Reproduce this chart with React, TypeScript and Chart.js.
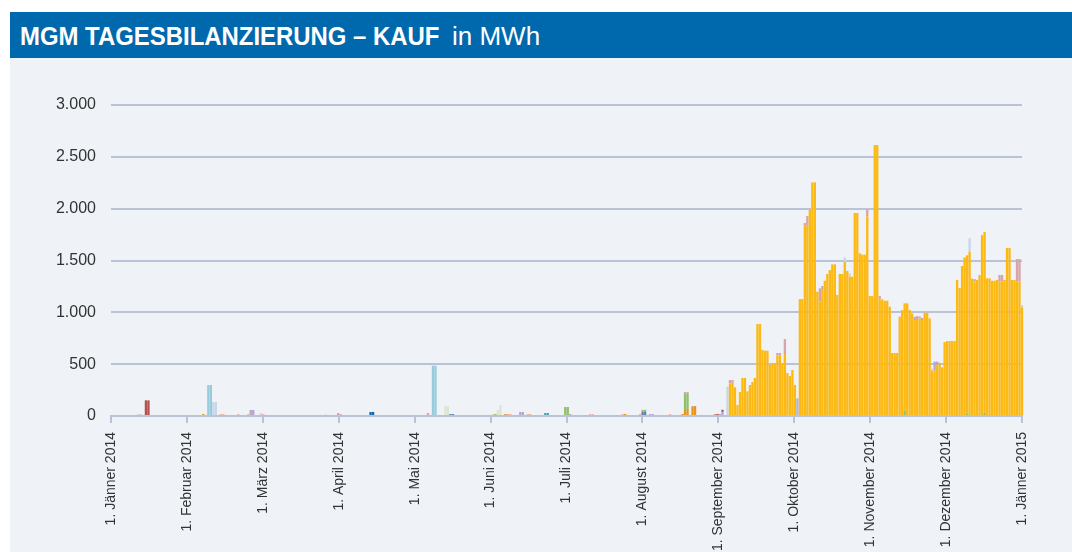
import React, { useEffect, useRef } from "react";
import { Chart, registerables } from "chart.js";

Chart.register(...registerables);

// ---- axis text ----
const titleBold = "MGM TAGESBILANZIERUNG – KAUF";
const titleUnit = "in MWh";
const monthLabels = [
  "1. Jänner 2014", "1. Februar 2014", "1. März 2014", "1. April 2014",
  "1. Mai 2014", "1. Juni 2014", "1. Juli 2014", "1. August 2014",
  "1. September 2014", "1. Oktober 2014", "1. November 2014",
  "1. Dezember 2014", "1. Jänner 2015",
];
const yTicks = [0, 500, 1000, 1500, 2000, 2500, 3000];

// ---- main series (orange), contiguous days starting at orangeStart ----
const orangeStart = 248;
const orangeValues = [
  315, 320, 277, 106, 231, 367, 367, 238, 299, 328, 367, 887, 887, 637, 630, 630,
  492, 511, 511, 585, 585, 508, 598, 415, 386, 444, 299, 0, 1128, 1128, 1842, 1842,
  1987, 2254, 2254, 1199, 1103, 1214, 1305, 1370, 1408, 1463, 1463, 1168, 1370, 1370,
  1488, 1400, 1344, 1344, 1958, 1958, 1569, 1556, 1556, 1926, 1157, 1157, 2614, 2614,
  1125, 1125, 1112, 1112, 1054, 608, 608, 608, 958, 1022, 1037, 1087, 1022, 990,
  926, 926, 940, 926, 996, 996, 942, 437, 437, 485, 514, 469, 714, 723, 723, 723,
  723, 1312, 1235, 1447, 1530, 1530, 1585, 1325, 1300, 1312, 1360, 1746, 1746, 1328,
  1328, 1305, 1305, 1312, 1296, 1296, 1312, 1620, 1620, 1312, 1312, 1296, 1296, 1048,
];

// ---- small series: day index (0 = 1. Jänner 2014) and value ----
const darkOrangeDays = [37, 158, 206, 229, 230, 231, 233, 234];
const darkOrangeValues = [19, 19, 19, 19, 58, 58, 87, 96];

const steelBlueDays = [136, 137, 213, 214];
const steelBlueValues = [19, 19, 39, 39];

const darkBlueDays = [104, 105];
const darkBlueValues = [39, 39];

const greenDays = [153, 154, 182, 183, 213, 214, 230, 231, 318, 343, 350];
const greenValues = [13, 19, 87, 87, 20, 20, 154, 154, 50, 20, 30];

const tealDays = [174, 175];
const tealValues = [29, 29];

const lightBlueDays = [39, 40, 129, 130];
const lightBlueValues = [299, 299, 485, 485];

const paleGreenDays = [134, 135, 155, 156];
const paleGreenValues = [96, 96, 58, 106];

const salmonDays = [44, 45, 51, 55, 61, 86, 159, 160, 167, 168, 192, 193, 205, 212, 224];
const salmonValues = [19, 19, 19, 19, 19, 13, 19, 19, 19, 19, 19, 19, 19, 19, 19];

const greyDays = [275];
const greyValues = [170];

const pinkDays = [91, 92, 127, 230, 231, 233, 248, 249, 267, 268, 270, 278, 279, 284, 285,
  303, 308, 323, 324, 356, 357, 363, 364];
const pinkValues = [29, 19, 29, 19, 19, 10, 32, 27, 23, 23, 144, 19, 87, 128, 40,
  67, 32, 38, 20, 64, 64, 218, 218];

const purpleDays = [56, 57, 164, 165, 184, 216, 217, 244, 245, 322, 325, 330, 331, 346];
const purpleValues = [58, 58, 39, 39, 19, 19, 19, 19, 40, 30, 20, 87, 39, 20];

const paleBlueDays = [11, 12, 32, 41, 42, 60, 247, 294, 296, 329, 344, 365];
const paleBlueValues = [20, 20, 10, 135, 135, 29, 283, 42, 30, 20, 130, 23];

const redDays = [14, 15, 242, 243, 245];
const redValues = [151, 151, 15, 20, 20];

const DAYS_IN_YEAR = 365;

function pts(days: number[], values: number[]) {
  return days.map((d, i) => ({ x: d, y: values[i] }));
}

function fmt(v: number) {
  const s = String(Math.round(v));
  return s.replace(/\B(?=(\d{3})+(?!\d))/g, ".");
}

export default function App() {
  const ref = useRef<HTMLCanvasElement | null>(null);

  useEffect(() => {
    const canvas = ref.current;
    if (!canvas) return;
    const orangeDays = orangeValues.map((_, i) => orangeStart + i);
    const series = [
      { label: "darkOrange", color: "#e8951b", data: pts(darkOrangeDays, darkOrangeValues) },
      { label: "steelBlue", color: "#5f80b5", data: pts(steelBlueDays, steelBlueValues) },
      { label: "darkBlue", color: "#1167a9", data: pts(darkBlueDays, darkBlueValues) },
      { label: "green", color: "#8fc06a", data: pts(greenDays, greenValues) },
      { label: "teal", color: "#4ea1b8", data: pts(tealDays, tealValues) },
      { label: "lightBlue", color: "#97cbdc", data: pts(lightBlueDays, lightBlueValues) },
      { label: "paleGreen", color: "#dde6d0", data: pts(paleGreenDays, paleGreenValues) },
      { label: "salmon", color: "#efb3a0", data: pts(salmonDays, salmonValues) },
      { label: "grey", color: "#b8b4cd", data: pts(greyDays, greyValues) },
      { label: "orange", color: "#fdb913", data: pts(orangeDays, orangeValues) },
      { label: "pink", color: "#d9a4a7", data: pts(pinkDays, pinkValues) },
      { label: "purple", color: "#b5a6d0", data: pts(purpleDays, purpleValues) },
      { label: "paleBlue", color: "#c8d7e8", data: pts(paleBlueDays, paleBlueValues) },
      { label: "red", color: "#b5504b", data: pts(redDays, redValues) },
    ];

    const gridColor = "#b9c3d5";
    const monthTicks = monthLabels.map((_, i) => (i * DAYS_IN_YEAR) / 12);

    const chart = new Chart(canvas, {
      type: "bar",
      data: {
        datasets: series.map((s) => ({
          label: s.label,
          data: s.data as any,
          backgroundColor: s.color,
          borderWidth: 0,
          barPercentage: 0.94,
          categoryPercentage: 1,
          clip: false as any,
        })),
      },
      options: {
        responsive: false,
        animation: false,
        events: [],
        layout: { padding: { top: 47, right: 50, left: 0, bottom: 0 } },
        plugins: { legend: { display: false }, tooltip: { enabled: false }, title: { display: false } },
        scales: {
          x: {
            type: "linear",
            stacked: true,
            offset: false,
            min: 0,
            max: DAYS_IN_YEAR,
            afterBuildTicks: (scale: any) => {
              scale.ticks = monthTicks.map((v) => ({ value: v }));
            },
            afterFit: (scale: any) => {
              scale.height = 136;
            },
            grid: {
              display: true,
              drawOnChartArea: false,
              drawTicks: true,
              tickLength: 7,
              color: gridColor,
              lineWidth: 2,
              offset: false,
            },
            border: { display: true, color: gridColor, width: 2 },
            ticks: {
              autoSkip: false,
              minRotation: 90,
              maxRotation: 90,
              padding: 9,
              color: "#333333",
              font: { family: "'Liberation Sans', Arial, sans-serif", size: 14 },
              callback: (_v: any, i: number) => monthLabels[i],
            },
          },
          y: {
            stacked: true,
            min: 0,
            max: 3000,
            afterBuildTicks: (scale: any) => {
              scale.ticks = yTicks.map((v) => ({ value: v }));
            },
            afterFit: (scale: any) => {
              scale.width = 101;
            },
            grid: { drawTicks: false, color: gridColor, lineWidth: 2 },
            border: { display: false },
            ticks: {
              padding: 15,
              color: "#333333",
              font: { family: "'Liberation Sans', Arial, sans-serif", size: 16 },
              callback: (v: any) => fmt(Number(v)),
            },
          },
        },
      },
    } as any);

    return () => chart.destroy();
  }, []);

  return (
    <div style={{ position: "absolute", left: 0, top: 0, width: 1072, height: 552, background: "#ffffff", overflow: "hidden" }}>
      <div
        style={{
          position: "absolute", left: 10, top: 12, width: 1062, height: 46,
          background: "#0069ad", color: "#ffffff",
          fontFamily: "'Liberation Sans', Arial, sans-serif", whiteSpace: "nowrap",
        }}
      >
        <span
          style={{
            position: "absolute", left: 10, top: 1, fontSize: 26, fontWeight: 700,
            lineHeight: "46px", display: "inline-block",
            transform: "scaleX(0.92)", transformOrigin: "0 0",
          }}
        >
          {titleBold}
        </span>
        <span
          style={{
            position: "absolute", left: 442, top: 1, fontSize: 26, fontWeight: 400,
            lineHeight: "46px",
          }}
        >
          {titleUnit}
        </span>
      </div>
      <div style={{ position: "absolute", left: 10, top: 58, width: 1062, height: 494, background: "#eff3f8" }}>
        <canvas ref={ref} width={1062} height={494} style={{ display: "block", width: 1062, height: 494 }} />
      </div>
    </div>
  );
}
